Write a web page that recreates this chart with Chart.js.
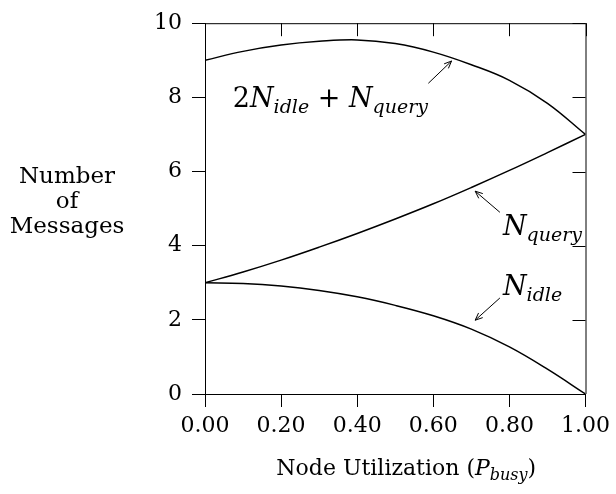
<!DOCTYPE html>
<html>
<head>
<meta charset="utf-8">
<script src="https://cdn.jsdelivr.net/npm/chart.js@4/dist/chart.umd.min.js"></script>
<style>
html, body { margin: 0; padding: 0; background: #fff; }
#wrap { width: 616px; height: 494px; }
</style>
</head>
<body>
<div id="wrap"><canvas id="chart"></canvas></div>
<script>
// values
const pBusy  = [0.0, 0.1, 0.2, 0.3, 0.4, 0.5, 0.6, 0.7, 0.8, 0.9, 1.0];
const nIdle  = [3.0, 2.98, 2.91, 2.79, 2.62, 2.39, 2.11, 1.75, 1.27, 0.67, 0.0];
const nQuery = [3.0, 3.29, 3.61, 3.96, 4.33, 4.72, 5.13, 5.57, 6.03, 6.51, 7.0];
const nTotal = [9.0, 9.24, 9.41, 9.51, 9.55, 9.45, 9.22, 8.88, 8.46, 7.84, 7.0];

const xTicks = [0, 0.2, 0.4, 0.6, 0.8, 1.0];
const yTicks = [0, 2, 4, 6, 8, 10];
const yTitleLines = ["Number", "of", "Messages"];

const SERIF = '"DejaVu Serif", serif';

const toPoints = (ys) => pBusy.map((p, i) => ({ x: p, y: ys[i] }));

// math-ish labels: [text, kind] where kind is "r" roman, "i" italic, "s" italic subscript
const curveLabels = [
    { parts: [["2", "r"], ["N", "i"], ["idle", "s"], [" + ", "r"], ["N", "i"], ["query", "s"]],
      at: [0.073, 7.75], arrow: [[0.587, 8.38], [0.648, 8.98]] },
    { parts: [["N", "i"], ["query", "s"]],
      at: [0.783, 4.29], arrow: [[0.775, 4.9], [0.71, 5.47]] },
    { parts: [["N", "i"], ["idle", "s"]],
      at: [0.783, 2.67], arrow: [[0.775, 2.59], [0.71, 1.99]] }
];

const drawMath = (ctx, x, y, parts, size, subSize) => {
    ctx.textBaseline = "alphabetic";
    ctx.textAlign = "left";
    parts.forEach(([txt, kind]) => {
        if (kind === "r") {
            ctx.font = `${size}px ${SERIF}`;
            ctx.fillText(txt, x, y);
        } else if (kind === "i") {
            ctx.font = `italic ${size}px ${SERIF}`;
            ctx.fillText(txt, x, y);
        } else {
            ctx.font = `italic ${subSize}px ${SERIF}`;
            ctx.fillText(txt, x, y + size * 0.22);
        }
        x += ctx.measureText(txt).width;
    });
    return x;
};

const mathWidth = (ctx, parts, size, subSize) => {
    let w = 0;
    parts.forEach(([txt, kind]) => {
        ctx.font = kind === "r" ? `${size}px ${SERIF}`
            : kind === "i" ? `italic ${size}px ${SERIF}` : `italic ${subSize}px ${SERIF}`;
        w += ctx.measureText(txt).width;
    });
    return w;
};

const extras = {
    id: "extras",
    afterDraw(chart) {
        const ctx = chart.ctx;
        const xs = chart.scales.x, ys = chart.scales.y;
        const a = chart.chartArea;
        ctx.save();
        ctx.strokeStyle = "#000";
        ctx.fillStyle = "#000";
        ctx.lineWidth = 1;

        // top and right frame with inward ticks
        ctx.beginPath();
        ctx.moveTo(a.left, a.top + 0.5);
        ctx.lineTo(a.right + 0.5, a.top + 0.5);
        ctx.lineTo(a.right + 0.5, a.bottom);
        xTicks.forEach(v => {
            const px = Math.round(xs.getPixelForValue(v)) + 0.5;
            ctx.moveTo(px, a.top);
            ctx.lineTo(px, a.top + 13);
        });
        yTicks.forEach(v => {
            const py = Math.round(ys.getPixelForValue(v)) + 0.5;
            ctx.moveTo(a.right, py);
            ctx.lineTo(a.right - 13, py);
        });
        ctx.stroke();

        // curve labels with arrows
        curveLabels.forEach(l => {
            drawMath(ctx, xs.getPixelForValue(l.at[0]), ys.getPixelForValue(l.at[1]), l.parts, 27, 19);
            const x1 = xs.getPixelForValue(l.arrow[0][0]), y1 = ys.getPixelForValue(l.arrow[0][1]);
            const x2 = xs.getPixelForValue(l.arrow[1][0]), y2 = ys.getPixelForValue(l.arrow[1][1]);
            const ang = Math.atan2(y2 - y1, x2 - x1);
            ctx.beginPath();
            ctx.moveTo(x1, y1);
            ctx.lineTo(x2, y2);
            ctx.moveTo(x2 - 8 * Math.cos(ang - 0.4), y2 - 8 * Math.sin(ang - 0.4));
            ctx.lineTo(x2, y2);
            ctx.lineTo(x2 - 8 * Math.cos(ang + 0.4), y2 - 8 * Math.sin(ang + 0.4));
            ctx.stroke();
        });

        // y title, three centred lines
        ctx.font = `23px ${SERIF}`;
        ctx.textAlign = "center";
        ctx.textBaseline = "alphabetic";
        yTitleLines.forEach((t, i) => ctx.fillText(t, 67, 183 + i * 25));

        // x title with subscript
        const xParts = [["Node Utilization (", "r"], ["P", "i"], ["busy", "s"], [")", "r"]];
        const w = mathWidth(ctx, xParts, 22, 16);
        drawMath(ctx, (a.left + a.right) / 2 + 11 - w / 2, 475, xParts, 22, 16);
        ctx.restore();
    }
};

const lineSet = (label, ys) => ({
    label: label,
    data: toPoints(ys),
    borderColor: "#000",
    borderWidth: 1.5,
    pointRadius: 0,
    tension: 0.4,
    fill: false
});

const axisCommon = {
    type: "linear",
    border: { display: true, color: "#000", width: 1 },
    grid: { drawOnChartArea: false, drawTicks: true, tickLength: 13, color: "#000" }
};

new Chart(document.getElementById("chart").getContext("2d"), {
    type: "line",
    data: {
        datasets: [
            lineSet("2Nidle + Nquery", nTotal),
            lineSet("Nquery", nQuery),
            lineSet("Nidle", nIdle)
        ]
    },
    options: {
        responsive: true,
        maintainAspectRatio: false,
        animation: false,
        layout: { padding: { left: 0, right: 28, top: 12, bottom: 0 } },
        plugins: { legend: { display: false }, tooltip: { enabled: false } },
        scales: {
            x: {
                ...axisCommon,
                min: 0, max: 1,
                afterBuildTicks: (s) => { s.ticks = xTicks.map(v => ({ value: v })); },
                afterFit: (s) => { s.height = 100; },
                ticks: {
                    color: "#000", padding: 6, maxRotation: 0,
                    font: { family: SERIF, size: 22 },
                    callback: (v) => Number(v).toFixed(2)
                }
            },
            y: {
                ...axisCommon,
                min: 0, max: 10,
                afterBuildTicks: (s) => { s.ticks = yTicks.map(v => ({ value: v })); },
                afterFit: (s) => { s.width = 205; },
                ticks: {
                    color: "#000", padding: 10,
                    font: { family: SERIF, size: 22 },
                    callback: (v) => String(v)
                }
            }
        }
    },
    plugins: [extras]
});
</script>
</body>
</html>
